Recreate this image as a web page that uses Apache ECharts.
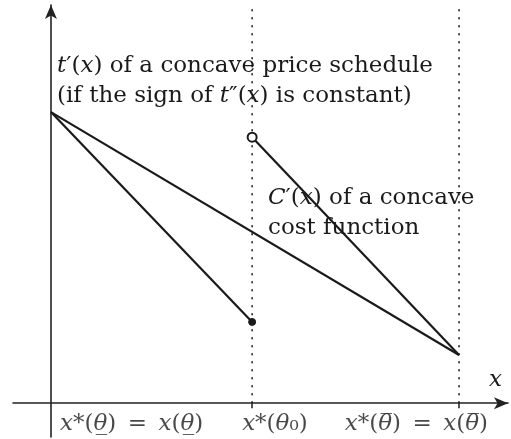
<!DOCTYPE html>
<html>
<head>
<meta charset="utf-8">
<script src="https://cdn.jsdelivr.net/npm/echarts@6/dist/echarts.min.js"></script>
<style>
html,body{margin:0;padding:0;background:#fff}
#c{width:511px;height:439px}
</style>
</head>
<body>
<div id="c"></div>
<script>
// Consumer types on the output axis: lowest type, threshold type θ0, highest type
const typeValues = [0, 0.493, 1];
const typeLabels = [
  '{i|x}*({i|θ̲})\u2002=\u2002{i|x}({i|θ̲})',
  '{i|x}*({i|θ}₀)',
  '{i|x}*({i|θ̅})\u2002=\u2002{i|x}({i|θ̅})'
];
// Marginal price t'(x): straight line from lowest to highest type
const priceSchedule = [7.31, 1.21];
// Marginal cost C'(x): left branch (lowest type → θ0) and right branch (θ0 → highest type)
const costLeft = [7.31, 2.04];
const costRight = [6.68, 1.21];
// Height reached by the dotted guides
const guideTop = 9.92;

const FONT = "'DejaVu Serif', 'Liberation Serif', serif";
const SIZE = 23;
const INK = '#1a1a1a';
const rich = {
  i: { fontStyle: 'italic', fontFamily: FONT, fontSize: SIZE, color: INK },
  n: { fontFamily: FONT, fontSize: SIZE, color: INK }
};

const chart = echarts.init(document.getElementById('c'), null, { renderer: 'canvas' });

const axisCommon = {
  type: 'value',
  splitLine: { show: false },
  axisLabel: { show: false },
  axisLine: {
    show: true,
    onZero: true,
    symbol: ['none', 'arrow'],
    symbolSize: [9, 14],
    lineStyle: { color: '#222', width: 1.6 }
  }
};

const tickLabelSeries = {
  type: 'scatter',
  symbolSize: 0,
  silent: true,
  z: 5,
  data: typeValues.map((v, i) => ({
    value: [v, 0],
    label: {
      show: true,
      position: 'inside',
      formatter: typeLabels[i],
      align: i === 2 ? 'right' : 'left',
      verticalAlign: 'middle',
      offset: [[9, -10, 29][i], 21],
      fontFamily: FONT,
      fontSize: SIZE,
      color: INK,
      rich: rich
    }
  }))
};

const guide = (x) => ({
  type: 'line',
  silent: true,
  symbol: 'none',
  data: [[x, 0], [x, guideTop]],
  lineStyle: { color: INK, width: 1.6, type: [2, 6] },
  z: 1
});

const text = (str, left, top) => ({
  type: 'text', left: left, top: top, z: 10,
  style: { text: str, font: SIZE + 'px ' + FONT, fill: INK, rich: rich }
});

chart.setOption({
  animation: false,
  backgroundColor: '#fff',
  grid: { left: 13, right: 3, top: 5, bottom: 2 },
  xAxis: Object.assign({}, axisCommon, {
    min: -0.093, max: 1.12,
    axisTick: { show: true, customValues: typeValues.slice(1), length: 5, lineStyle: { color: INK, width: 1.5 } }
  }),
  yAxis: Object.assign({}, axisCommon, {
    min: -0.85, max: 10,
    axisTick: { show: false }
  }),
  series: [
    guide(typeValues[1]),
    guide(typeValues[2]),
    {
      type: 'line',
      symbol: 'none',
      data: [[typeValues[0], priceSchedule[0]], [typeValues[2], priceSchedule[1]]],
      lineStyle: { color: INK, width: 2.2 },
      z: 3
    },
    {
      type: 'line',
      data: [[typeValues[0], costLeft[0]], [typeValues[1], costLeft[1]]],
      symbol: (val, p) => p.dataIndex === 1 ? 'circle' : 'none',
      symbolSize: 7,
      itemStyle: { color: INK, borderColor: INK, borderWidth: 1 },
      lineStyle: { color: INK, width: 2.2 },
      z: 3
    },
    {
      type: 'line',
      data: [[typeValues[1], costRight[0]], [typeValues[2], costRight[1]]],
      symbol: (val, p) => p.dataIndex === 0 ? 'circle' : 'none',
      symbolSize: 9,
      itemStyle: { color: '#fff', borderColor: INK, borderWidth: 2 },
      lineStyle: { color: INK, width: 2.2 },
      z: 3
    },
    tickLabelSeries
  ],
  graphic: [
    text('{i|t}′({i|x}) of a concave price schedule', 57, 55),
    text('(if the sign of {i|t}″({i|x}) is constant)', 57, 85),
    text('{i|C}′({i|x}) of a concave', 268, 187),
    text('cost function', 268, 217),
    text('{i|x}', 489, 369)
  ]
});
</script>
</body>
</html>
